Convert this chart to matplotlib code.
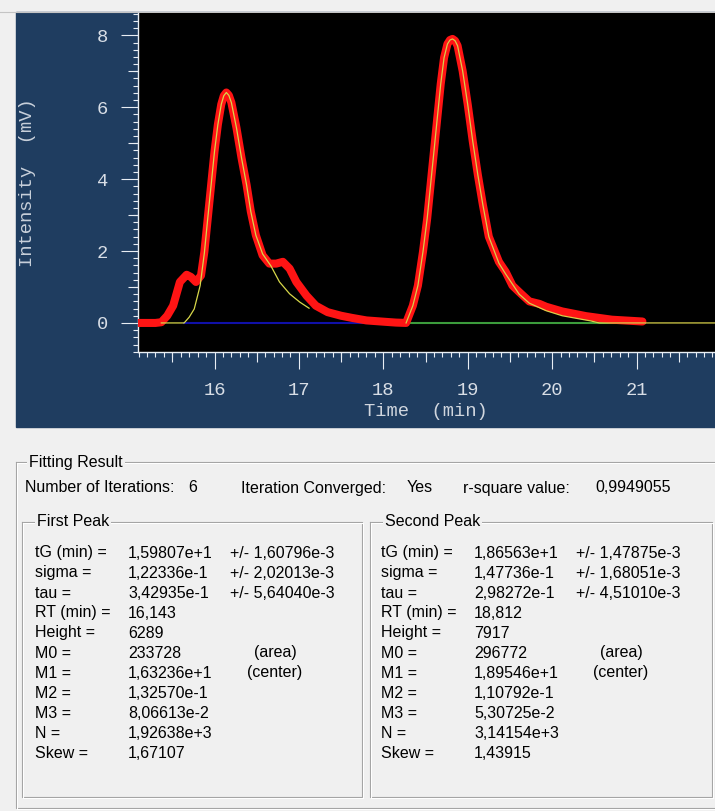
import matplotlib
matplotlib.use('Agg')
import matplotlib.pyplot as plt
from matplotlib.patches import Rectangle
from matplotlib.ticker import MultipleLocator, FixedLocator

# measured chromatogram (red)
time_data = [15.10, 15.20, 15.30, 15.37, 15.44, 15.51, 15.59, 15.67, 15.72, 15.78,
             15.84, 15.88, 15.92, 15.96, 16.00, 16.04, 16.08, 16.11, 16.14, 16.17,
             16.20, 16.26, 16.32, 16.38, 16.43, 16.49, 16.57, 16.65, 16.73, 16.81,
             16.89, 16.97, 17.09, 17.20, 17.34, 17.50, 17.63, 17.80, 18.03, 18.15,
             18.27, 18.35, 18.41, 18.47, 18.52, 18.56, 18.60, 18.64, 18.68, 18.72,
             18.76, 18.79, 18.82, 18.85, 18.88, 18.94, 19.00, 19.06, 19.12, 19.18,
             19.25, 19.37, 19.45, 19.53, 19.61, 19.73, 19.85, 19.93, 20.12, 20.40,
             20.71, 21.07]
intensity = [0.00, 0.00, 0.00, 0.02, 0.20, 0.48, 1.14, 1.34, 1.28, 1.14,
             1.32, 1.98, 2.91, 3.84, 4.77, 5.52, 6.08, 6.32, 6.41, 6.33,
             6.13, 5.43, 4.59, 3.84, 3.10, 2.44, 1.88, 1.65, 1.65, 1.70,
             1.51, 1.14, 0.76, 0.48, 0.30, 0.20, 0.14, 0.07, 0.03, 0.01,
             0.00, 0.48, 1.04, 1.98, 2.91, 3.84, 4.77, 5.71, 6.64, 7.38,
             7.76, 7.87, 7.90, 7.85, 7.71, 7.01, 6.08, 5.05, 4.12, 3.28,
             2.40, 1.70, 1.42, 1.04, 0.86, 0.60, 0.53, 0.45, 0.32, 0.19,
             0.09, 0.04]

# fitted EMG curves (yellow)
fit1_time = [15.37, 15.64, 15.70, 15.76, 15.80, 15.83, 15.88, 15.92, 15.96, 16.00,
             16.04, 16.08, 16.11, 16.14, 16.17, 16.20, 16.26, 16.32, 16.38, 16.43,
             16.49, 16.57, 16.67, 16.77, 16.89, 17.01, 17.12]
fit1_val = [0.00, 0.00, 0.16, 0.39, 0.76, 1.04, 1.95, 2.91, 3.84, 4.77,
            5.52, 6.08, 6.32, 6.41, 6.33, 6.13, 5.43, 4.59, 3.84, 3.10,
            2.44, 1.92, 1.58, 1.14, 0.81, 0.58, 0.41]
fit2_time = [18.27, 18.35, 18.41, 18.47, 18.52, 18.56, 18.60, 18.64, 18.68, 18.72,
             18.76, 18.79, 18.82, 18.85, 18.88, 18.94, 19.00, 19.06, 19.12, 19.18,
             19.25, 19.37, 19.45, 19.61, 19.73, 19.93, 20.12, 20.33, 20.45, 20.56,
             21.93]
fit2_val = [0.00, 0.48, 1.04, 1.98, 2.91, 3.84, 4.77, 5.71, 6.64, 7.38,
            7.76, 7.87, 7.90, 7.85, 7.71, 7.01, 6.08, 5.05, 4.12, 3.28,
            2.40, 1.66, 1.36, 0.80, 0.55, 0.34, 0.20, 0.11, 0.06, 0.00,
            0.00]

# baselines
base1_time = [15.64, 18.27]
base2_time = [18.27, 21.10]

# fitting result text
header_labels = ['Number of Iterations:', '6', 'Iteration Converged:', 'Yes',
                 'r-square value:', '0,9949055']
row_labels = ['tG (min) =', 'sigma =', 'tau =', 'RT (min) =', 'Height =', 'M0 =',
              'M1 =', 'M2 =', 'M3 =', 'N =', 'Skew =']
peak1_values = ['1,59807e+1', '1,22336e-1', '3,42935e-1', '16,143', '6289', '233728',
                '1,63236e+1', '1,32570e-1', '8,06613e-2', '1,92638e+3', '1,67107']
peak1_err = ['+/- 1,60796e-3', '+/- 2,02013e-3', '+/- 5,64040e-3']
peak2_values = ['1,86563e+1', '1,47736e-1', '2,98272e-1', '18,812', '7917', '296772',
                '1,89546e+1', '1,10792e-1', '5,30725e-2', '3,14154e+3', '1,43915']
peak2_err = ['+/- 1,47875e-3', '+/- 1,68051e-3', '+/- 4,51010e-3']
notes = {5: '(area)', 6: '(center)'}

W, H = 715, 811
fig = plt.figure(figsize=(W / 100, H / 100), dpi=100)
fig.patch.set_facecolor('#f0f0f0')

# pixel-coordinate background layer
bg = fig.add_axes([0, 0, 1, 1])
bg.set_xlim(0, W)
bg.set_ylim(H, 0)
bg.axis('off')
bg.add_patch(Rectangle((16, 12), W - 16, 415, color='#1f3d60', zorder=0))
bg.plot([0, W], [11.5, 11.5], color='#c4c4c4', lw=0.8)

# chart
ax = fig.add_axes([137.7 / W, (H - 351.7) / H, (W - 137.7) / W, (351.7 - 12.7) / H])
ax.set_facecolor('black')
ax.set_xlim(15.09, 21.93)
ax.set_ylim(-0.80, 8.63)

ax.plot(base1_time, [0, 0], color='#1010a8', lw=1.5, zorder=2)
ax.plot(base2_time, [0, 0], color='#3c9c3c', lw=1.5, zorder=2)
ax.plot(time_data, intensity, color='#ff1414', lw=5.8, solid_capstyle='round',
        solid_joinstyle='round', zorder=3)
ax.plot(fit1_time, fit1_val, color='#d8d84a', lw=0.9, zorder=4)
ax.plot(fit2_time, fit2_val, color='#d8d04a', lw=0.9, zorder=4)

for s in ['top', 'right']:
    ax.spines[s].set_visible(False)
for s in ['left', 'bottom']:
    ax.spines[s].set_color('#e8eef4')
    ax.spines[s].set_linewidth(1.0)

mono = 'Liberation Mono'
tick_col = '#d8dee6'
ax.set_xticks([16, 17, 18, 19, 20, 21])
ax.set_yticks([0, 2, 4, 6, 8])
ax.xaxis.set_minor_locator(MultipleLocator(0.1))
ax.yaxis.set_minor_locator(MultipleLocator(0.2))
ax.tick_params(which='major', direction='out', length=12.5, width=0.8, color='#e8eef4',
               labelcolor=tick_col, labelsize=13.5, pad=9)
ax.tick_params(which='minor', direction='out', length=3.8, width=0.8, color='#e8eef4')
for lab in ax.get_xticklabels() + ax.get_yticklabels():
    lab.set_family(mono)

# medium ticks at half units
sx = ax.secondary_xaxis('bottom')
sx.xaxis.set_major_locator(FixedLocator([15.5, 16.5, 17.5, 18.5, 19.5, 20.5, 21.5]))
sx.tick_params(direction='out', length=7.5, width=0.8, color='#e8eef4', labelbottom=False)
sx.spines['bottom'].set_visible(False)
sy = ax.secondary_yaxis('left')
sy.yaxis.set_major_locator(FixedLocator([1, 3, 5, 7]))
sy.tick_params(direction='out', length=7.5, width=0.8, color='#e8eef4', labelleft=False)
sy.spines['left'].set_visible(False)

ax.set_xlabel('Time  (min)', family=mono, fontsize=13.5, color='#d0d6de', va='top')
ax.xaxis.set_label_coords(0.5, -0.150)
ax.set_ylabel('Intensity  (mV)', family=mono, fontsize=13.5, color='#c8d0da')
ax.yaxis.set_label_coords(-0.176, 0.5)

# fitting result panel
sans = 'Liberation Sans'
fs = 11.5


def groupbox(x0, y0, x1, y1, title, tx):
    for off, col in [(0, '#a0a0a0'), (1, '#ffffff')]:
        bg.plot([x0 + off, x1 + off, x1 + off, x0 + off, x0 + off],
                [y0 + off, y0 + off, y1 + off, y1 + off, y0 + off],
                color=col, lw=0.8, zorder=1)
    bg.text(tx, y0, title, family=sans, fontsize=fs, va='center', ha='left', zorder=3,
            bbox=dict(facecolor='#f0f0f0', edgecolor='none', pad=1.5))


groupbox(16, 462, 717, 808, 'Fitting Result', 29)
groupbox(22, 522, 362, 797, 'First Peak', 37)
groupbox(370, 522, 712, 797, 'Second Peak', 385)

header_x = [25, 188, 241, 407, 463, 595]
for x, t in zip(header_x, header_labels):
    bg.text(x, 488, t, family=sans, fontsize=fs, va='center', ha='left')

for col0, vals, errs in [(35, peak1_values, peak1_err), (381, peak2_values, peak2_err)]:
    for i, lab in enumerate(row_labels):
        y = 553 + 20 * i
        bg.text(col0, y, lab, family=sans, fontsize=fs, va='center', ha='left')
        bg.text(col0 + 93, y, vals[i], family=sans, fontsize=fs, va='center', ha='left')
        if i < len(errs):
            bg.text(col0 + 195, y, errs[i], family=sans, fontsize=fs, va='center', ha='left')
        if i in notes:
            nx = col0 + (219 if i == 5 else 212)
            bg.text(nx, y, notes[i], family=sans, fontsize=fs, va='center', ha='left')

fig.savefig('out.png', dpi=100, facecolor=fig.get_facecolor())
